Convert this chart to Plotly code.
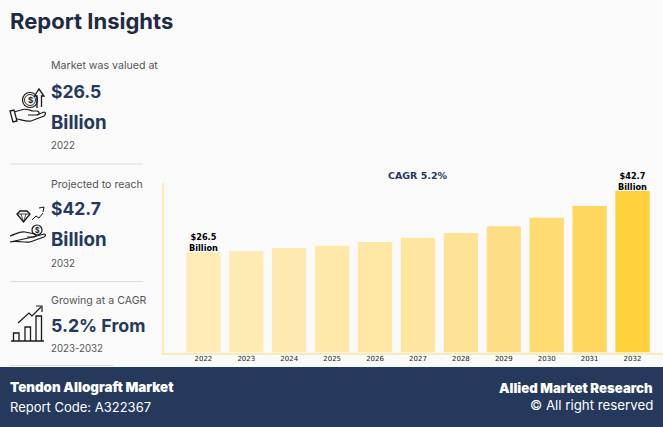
import plotly.graph_objects as go

W, H = 663, 427

years = [2022, 2023, 2024, 2025, 2026, 2027, 2028, 2029, 2030, 2031, 2032]
market_size = [26.5, 26.8, 27.6, 28.2, 29.2, 30.3, 31.6, 33.4, 35.6, 38.7, 42.7]
bar_colors = ['#feebb6', '#feebb3', '#feeaaf', '#fee9ab', '#fee7a5', '#fee5a0',
              '#fee397', '#fede85', '#fedc72', '#fed75e', '#fed13a']
label_years = [2022, 2032]
label_texts = ['$26.5<br>Billion', '$42.7<br>Billion']

NAVY = '#25395c'
SIDE_FONT = 'Inter'


def px(x):
    return x / W


def py(y):
    return 1 - y / H


def side_text(x, y, text, size, color='#555555', weight=400, anchor='left', family=SIDE_FONT):
    return dict(xref='paper', yref='paper', x=px(x), y=py(y), text=text, showarrow=False,
                xanchor=anchor, yanchor='middle', align=anchor, borderpad=0, borderwidth=0,
                font=dict(family=family, size=size, color=color, weight=weight))


def icon(path, width=1.2, color='#1a1a1a'):
    # path is in page pixels, converted to paper coords
    out = []
    for tok in path.split():
        if ',' in tok:
            a, b = tok.split(',')
            out.append('%.5f,%.5f' % (px(float(a)), py(float(b))))
        else:
            out.append(tok)
    return dict(type='path', xref='paper', yref='paper', path=' '.join(out),
                line=dict(color=color, width=width), layer='above')


def circle(cx, cy, r, width=1.2, color='#1a1a1a'):
    return dict(type='circle', xref='paper', yref='paper', x0=px(cx - r), x1=px(cx + r),
                y0=py(cy + r), y1=py(cy - r), line=dict(color=color, width=width))


def hline(x0, x1, y, color, width=1):
    return dict(type='line', xref='paper', yref='paper', x0=px(x0), x1=px(x1), y0=py(y), y1=py(y),
                line=dict(color=color, width=width))


fig = go.Figure()
fig.add_trace(go.Bar(x=years, y=market_size, width=0.8, marker=dict(color=bar_colors, line=dict(width=0)),
                     hoverinfo='skip'))

shapes = [
    # footer
    dict(type='rect', xref='paper', yref='paper', x0=0, x1=1, y0=0, y1=py(367), fillcolor=NAVY, line_width=0),
    hline(10, 143, 164, '#dcdcdc'),
    hline(10, 143, 281.5, '#dcdcdc'),
    hline(10, 113, 365.5, '#dcdcdc'),
    # coin hand
    circle(30, 100, 7.5), circle(30, 100, 5.5, 0.9),
    icon('M 37,108 L 37,96 L 34.5,96 L 39,89 L 44,96 L 41.5,96 L 41.5,107', 1.3),
    icon('M 14,112 L 21,110 C 25,108 29,110 33,111 L 37,111 C 40,112 40,114 37,115 L 28,115'),
    icon('M 37,115 L 44,112 C 46,112 46,114 44,116 L 31,121 C 27,122 22,120 17,119'),
    icon('M 10,111 L 14,110 L 17,121 L 13,122 Z', 1.3),
    # diamond hand
    icon('M 17,214 L 20,211 L 27,211 L 30,214 L 23.5,222 Z', 1.3),
    icon('M 17,214 L 30,214 M 21,214 L 23.5,222 L 26,214', 0.8),
    circle(37, 230, 5),
    icon('M 32,220 L 36,216 L 39,218 L 43,213 M 39,208 L 44,207 L 43,212', 1.0),
    icon('M 10,236 C 16,234 20,231 25,232 L 35,234 C 37,235 36,237 33,237 L 27,237'),
    icon('M 33,237 L 44,234 C 46,234 46,236 44,237 L 30,242 C 24,243 16,240 10,242 Z'),
    # growth chart
    icon('M 11,341 L 44,341', 1.4),
    icon('M 13.5,341 L 13.5,333 L 19,333 L 19,341', 1.3),
    icon('M 25,341 L 25,327 L 30.5,327 L 30.5,341', 1.3),
    icon('M 36,341 L 36,316 L 41.5,316 L 41.5,341', 1.3),
    icon('M 18,323 L 29,313 L 32,316 L 41,307', 1.2),
    icon('M 36,306 L 42,306 L 42,312', 1.2),
]

annotations = [
    side_text(10, 21, 'Report Insights', 22, '#1f2a44', 700),
    side_text(51, 66, 'Market was valued at', 10.6),
    side_text(51, 91, '$26.5', 17.5, NAVY, 700),
    side_text(51, 122, 'Billion', 18.7, NAVY, 700),
    side_text(51, 146, '2022', 9.7),
    side_text(51, 184, 'Projected to reach', 10.6),
    side_text(51, 208, '$42.7', 17.5, NAVY, 700),
    side_text(51, 240, 'Billion', 18.7, NAVY, 700),
    side_text(51, 263, '2032', 9.7),
    side_text(51, 300, 'Growing at a CAGR', 10.6),
    side_text(51, 325, '5.2% From', 17.8, NAVY, 700),
    side_text(51, 348, '2023-2032', 9.7),
    side_text(30, 100, '$', 8, '#1a1a1a', 700, 'center'),
    side_text(37, 230, '$', 7, '#1a1a1a', 700, 'center'),
    side_text(418, 175, 'CAGR 5.2%', 9.5, NAVY, 700, 'center', 'DejaVu Sans'),
    side_text(10, 387, 'Tendon Allograft Market', 13.4, '#ffffff', 900),
    side_text(10, 407, 'Report Code: A322367', 13, '#ffffff', 400),
    side_text(653, 388, 'Allied Market Research', 13.2, '#ffffff', 900, 'right'),
    side_text(653, 405, '© All right reserved', 13.3, '#ffffff', 400, 'right'),
]

# value labels sit right on the bar top, closer than textposition='outside' allows
for yr, txt in zip(label_years, label_texts):
    annotations.append(dict(x=yr, y=market_size[years.index(yr)], xref='x', yref='y', text=txt, showarrow=False,
                            xanchor='center', yanchor='bottom', yshift=-1, borderpad=0, borderwidth=0,
                            font=dict(family='DejaVu Sans', size=8.2, color='#000000', weight=700)))

fig.update_layout(
    width=W, height=H, autosize=False, showlegend=False,
    margin=dict(l=0, r=0, t=0, b=0),
    paper_bgcolor='#fafafa', plot_bgcolor='#fafafa',
    shapes=shapes, annotations=annotations,
)
fig.update_xaxes(domain=[163.5 / W, 1], range=[2021.07, 2032.71], tickmode='array', tickvals=years,
                 ticks='', showgrid=False, zeroline=False, showline=True, linecolor='#fdeab5', linewidth=1.5,
                 ticklabelstandoff=-2, tickfont=dict(family='DejaVu Sans', size=7, color='#1a1a1a'))
fig.update_yaxes(domain=[py(352.5), py(183)], range=[0, 44.8], showticklabels=False, ticks='', showgrid=False,
                 zeroline=False, showline=True, linecolor='#fdeab5', linewidth=1.5)

# page default margin would push the figure off by 8px
fig.write_html("out.html", config=dict(displayModeBar=False),
               post_script="document.body.style.margin='0';document.body.style.overflow='hidden';")
